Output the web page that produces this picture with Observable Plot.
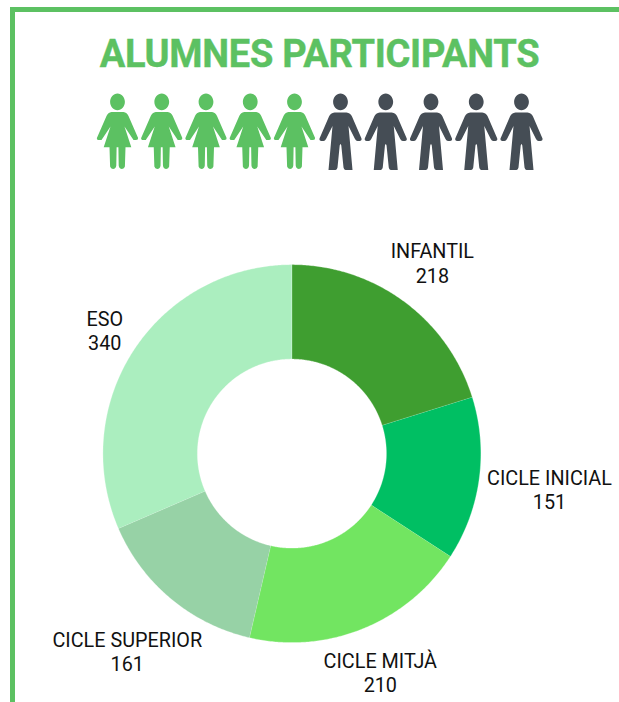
<!DOCTYPE html>
<html><head><meta charset="utf-8">
<script src="https://cdn.jsdelivr.net/npm/d3@7"></script>
<script src="https://cdn.jsdelivr.net/npm/@observablehq/plot@0.6"></script>
<style>
html,body{margin:0;padding:0;background:#fff}
#page{position:relative;width:619px;height:702px;overflow:hidden}
#frameTop{position:absolute;left:10px;top:7px;right:0;height:5px;background:#5cc162}
#frameLeft{position:absolute;left:10px;top:7px;bottom:0;width:5px;background:#5cc162}
h1{position:absolute;left:0;top:32px;width:639px;margin:0;text-align:center;font:700 38px/44px Roboto,sans-serif;letter-spacing:-0.3px;-webkit-text-stroke:0.4px #5cc162;color:#5cc162;white-space:nowrap}
#page svg{position:absolute;background:transparent}
</style></head><body>
<div id="page"><div id="frameTop"></div><div id="frameLeft"></div><h1>ALUMNES PARTICIPANTS</h1></div>
<script>
const categories = ["INFANTIL","CICLE INICIAL","CICLE MITJÀ","CICLE SUPERIOR","ESO"];
const values = [218,151,210,161,340];
const colors = ["#3f9e30","#00bf63","#72e561","#97d2a6","#abeebf"];
const labelRadius = [237,260,236,257,224];
const girls = [0,1,2,3,4];
const boys = [0,1,2,3,4];

const page = document.getElementById("page");
const outer = 189, inner = 94.5;
const pie = d3.pie().sort(null)(values);
const slices = pie.flatMap((a,i)=>{
  const n = Math.ceil((a.endAngle-a.startAngle)*180/Math.PI*2);
  const pts = [];
  for (let k=0;k<=n;k++){const t=a.startAngle+(a.endAngle-a.startAngle)*k/n;pts.push({c:categories[i],x:outer*Math.sin(t),y:outer*Math.cos(t)});}
  for (let k=n;k>=0;k--){const t=a.startAngle+(a.endAngle-a.startAngle)*k/n;pts.push({c:categories[i],x:inner*Math.sin(t),y:inner*Math.cos(t)});}
  return pts;
});
const labels = pie.map((a,i)=>{const t=(a.startAngle+a.endAngle)/2;return {text:categories[i]+"\n"+values[i],x:labelRadius[i]*Math.sin(t),y:labelRadius[i]*Math.cos(t)};});

const donut = Plot.plot({
  width:619,height:702,margin:0,
  x:{domain:[-291.4,327.6],range:[0,619],axis:null},
  y:{domain:[-248.9,453.1],range:[702,0],axis:null},
  color:{domain:categories,range:colors},
  marks:[
    Plot.line(slices,{x:"x",y:"y",z:"c",fill:"c",stroke:"#fff",strokeWidth:0.3,curve:"linear"}),
    Plot.text(labels,{x:"x",y:"y",text:"text",fontSize:19.8,lineHeight:1.23,fill:"#111",fontFamily:"Roboto"})
  ]
});
donut.style.left="0";donut.style.top="0";
page.appendChild(donut);

function person(draw){return {draw(ctx,size){const s=Math.sqrt(size/Math.PI)/30;draw((m,...a)=>ctx[m](...a.map(v=>v*s)));}};}
const head=(p)=>{const cy=-29.7,rx=7.4,ry=8.4,k=0.5523;
  p("moveTo",rx,cy);
  p("bezierCurveTo",rx,cy+k*ry,k*rx,cy+ry,0,cy+ry);
  p("bezierCurveTo",-k*rx,cy+ry,-rx,cy+k*ry,-rx,cy);
  p("bezierCurveTo",-rx,cy-k*ry,-k*rx,cy-ry,0,cy-ry);
  p("bezierCurveTo",k*rx,cy-ry,rx,cy-k*ry,rx,cy);
  p("closePath");};
const girl=person(p=>{head(p);
  [["moveTo",-6,-19.5],["lineTo",6,-19.5],["quadraticCurveTo",9.5,-19,11,-15.5],["lineTo",20.6,6.5],["quadraticCurveTo",20.9,8.6,18.5,8.6],["lineTo",16,8.6],
   ["lineTo",7,-5],["lineTo",13.8,15.7],["lineTo",8,15.7],["lineTo",7.4,35],["quadraticCurveTo",6.8,37.4,4.5,37.4],["quadraticCurveTo",1.6,37.4,1.2,34],["lineTo",0.9,15.7],["lineTo",-0.9,15.7],["lineTo",-1.2,34],["quadraticCurveTo",-1.6,37.4,-4.5,37.4],["quadraticCurveTo",-6.8,37.4,-7.4,35],["lineTo",-8,15.7],["lineTo",-13.8,15.7],["lineTo",-7,-5],["lineTo",-16,8.6],["lineTo",-18.5,8.6],["quadraticCurveTo",-20.9,8.6,-20.6,6.5],["lineTo",-11,-15.5],["quadraticCurveTo",-9.5,-19,-6,-19.5],["closePath"]
  ].forEach(c=>p(...c));});
const boy=person(p=>{head(p);
  [["moveTo",-6,-19],["lineTo",6,-19],["quadraticCurveTo",10,-18.6,11.5,-15],["lineTo",21,7],["quadraticCurveTo",21.5,9.4,19,9.4],["lineTo",17,9.4],["quadraticCurveTo",15.5,9.4,14.5,7.5],["lineTo",8,-5.5],["lineTo",12,38.4],["lineTo",5,38.4],["quadraticCurveTo",3.4,38.4,3,36],["lineTo",0.8,14],["quadraticCurveTo",0,11,-0.8,14],["lineTo",-3,36],["quadraticCurveTo",-3.4,38.4,-5,38.4],["lineTo",-12,38.4],["lineTo",-8,-5.5],["lineTo",-14.5,7.5],["quadraticCurveTo",-15.5,9.4,-17,9.4],["lineTo",-19,9.4],["quadraticCurveTo",-21.5,9.4,-21,7],["lineTo",-11.5,-15],["quadraticCurveTo",-10,-18.6,-6,-19],["closePath"]
  ].forEach(c=>p(...c));});

function row(data,symbol,fill,x0,x1){
  const c = Plot.plot({width:x1-x0+60,height:90,margin:0,
    x:{domain:[0,4],range:[30,x1-x0+30],axis:null},
    y:{domain:[0,1],range:[0,90],axis:null},
    marks:[Plot.dot(data,{x:d=>d,y:()=>0.5,r:30,symbol,fill,stroke:null})]});
  c.style.left=(x0-30)+"px";c.style.top="86px";c.style.overflow="visible";
  page.appendChild(c);
}
row(girls,girl,"#5cc162",117,294);
row(boys,boy,"#454d55",340,521);
</script></body></html>
